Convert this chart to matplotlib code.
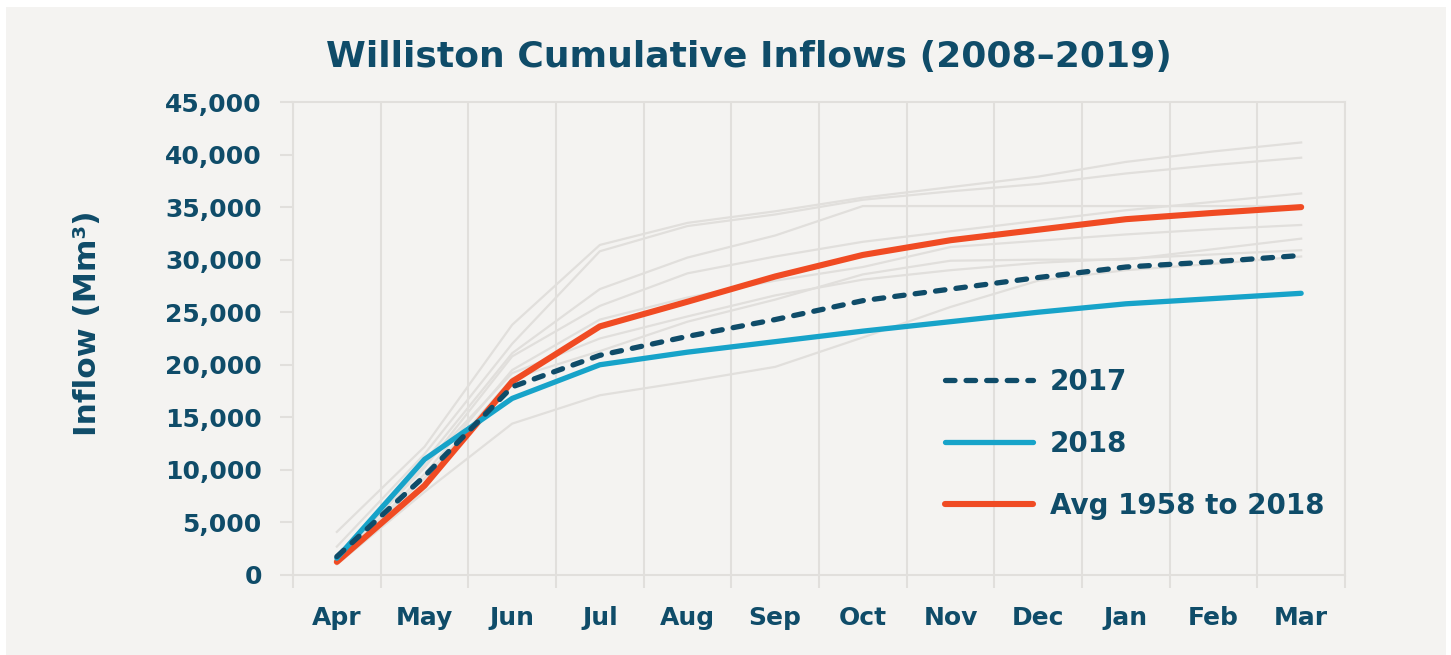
import numpy as np
import matplotlib
matplotlib.use('Agg')
import matplotlib.pyplot as plt
from matplotlib.patches import Rectangle
from matplotlib.ticker import FuncFormatter, FixedLocator

plt.rcParams['font.family'] = ['DejaVu Sans']

months = ['Apr', 'May', 'Jun', 'Jul', 'Aug', 'Sep', 'Oct', 'Nov', 'Dec', 'Jan', 'Feb', 'Mar']

# highlighted series (Mm3, cumulative)
inflow_2017 = [1750, 9400, 17900, 20900, 22700, 24300, 26100, 27200, 28300, 29300, 29800, 30400]
inflow_2018 = [1600, 11000, 16800, 20000, 21200, 22200, 23200, 24100, 25000, 25800, 26300, 26800]
inflow_avg = [1250, 8500, 18400, 23650, 26000, 28400, 30450, 31850, 32850, 33850, 34450, 35000]

# other years 2008-2019, drawn in the background
gray_years = [
    [4100, 12200, 23800, 31400, 33500, 34600, 35900, 36900, 37900, 39300, 40300, 41150],
    [2700, 11500, 22000, 30800, 33200, 34300, 35700, 36500, 37200, 38200, 39000, 39700],
    [1800, 10800, 21100, 27200, 30200, 32300, 35100, 35100, 35100, 35100, 35100, 35100],
    [1500, 10200, 20800, 25600, 28700, 30300, 31700, 32700, 33700, 34700, 35500, 36300],
    [1300, 9600, 19500, 24300, 26400, 28000, 29300, 31200, 31800, 32400, 32900, 33300],
    [1400, 9200, 18700, 21300, 24100, 26200, 28600, 29900, 30000, 30000, 31000, 32000],
    [1600, 10400, 19200, 22500, 24600, 26600, 28100, 29000, 29700, 30100, 30500, 30900],
    [1000, 7900, 14400, 17100, 18400, 19800, 22600, 25500, 28000, 29000, 29600, 30300],
]

yticks = [0, 5000, 10000, 15000, 20000, 25000, 30000, 35000, 40000, 45000]

text_col = '#0f4c69'
grid_col = '#e1dfdc'
bg_col = '#f4f3f1'

fig = plt.figure(figsize=(14.51, 6.55), dpi=100, facecolor='white')
fig.patches.append(Rectangle((6 / 1451, 0), 1440 / 1451, 648 / 655, transform=fig.transFigure,
                             facecolor=bg_col, edgecolor='none', zorder=-10))

ax = fig.add_axes([293 / 1451, 1 - 575 / 655, 1052 / 1451, 473 / 655])
ax.set_facecolor(bg_col)

x = np.arange(len(months))

for vals in gray_years:
    ax.plot(x, vals, color=grid_col, lw=1.6, zorder=1)

ax.plot(x, inflow_avg, color='#f04b23', lw=4.4, solid_capstyle='round', solid_joinstyle='round',
        label='Avg 1958 to 2018', zorder=3)
ax.plot(x, inflow_2018, color='#17a3c9', lw=3.8, solid_capstyle='round', solid_joinstyle='round',
        label='2018', zorder=4)
ax.plot(x, inflow_2017, color=text_col, lw=3.8, dashes=(1.8, 2.1), dash_capstyle='round',
        label='2017', zorder=5)

ax.set_xlim(-0.5, len(months) - 0.5)
ax.set_ylim(0, 45000)

ax.set_xticks(x)
ax.set_xticklabels(months)
ax.xaxis.set_minor_locator(FixedLocator(np.arange(-0.5, len(months), 1)))
ax.tick_params(axis='x', which='major', length=0, pad=22)
ax.tick_params(axis='x', which='minor', length=9.5, width=1.5, color=grid_col)
ax.grid(axis='x', which='minor', color=grid_col, lw=1.5)

ax.set_yticks(yticks)
ax.yaxis.set_major_formatter(FuncFormatter(lambda v, p: f'{int(v):,}'))
ax.tick_params(axis='y', length=9.5, width=1.5, color=grid_col, pad=13)

for lab in ax.get_xticklabels() + ax.get_yticklabels():
    lab.set_fontsize(18)
    lab.set_fontweight('bold')
    lab.set_color(text_col)

for s in ax.spines.values():
    s.set_color(grid_col)
    s.set_linewidth(1.5)

fig.text(87 / 1451, 1 - 323 / 655, 'Inflow (Mm³)', rotation=90, ha='center', va='center',
         fontsize=22.5, fontweight='bold', color=text_col)
fig.text(749 / 1451, 1 - 57 / 655, 'Williston Cumulative Inflows (2008–2019)', ha='center', va='center',
         fontsize=26, fontweight='bold', color=text_col)

handles, labels = ax.get_legend_handles_labels()
order = [2, 1, 0]
leg = ax.legend([handles[i] for i in order], [labels[i] for i in order], loc='upper left',
                bbox_to_anchor=(652 / 1052, 1 - (368 - 102) / 473), frameon=False,
                fontsize=20, handlelength=3.15, handletextpad=0.62, labelspacing=1.22,
                borderaxespad=0, borderpad=0)
for t in leg.get_texts():
    t.set_fontweight('bold')
    t.set_color(text_col)

fig.savefig('out.png', dpi=100, facecolor=fig.get_facecolor())
